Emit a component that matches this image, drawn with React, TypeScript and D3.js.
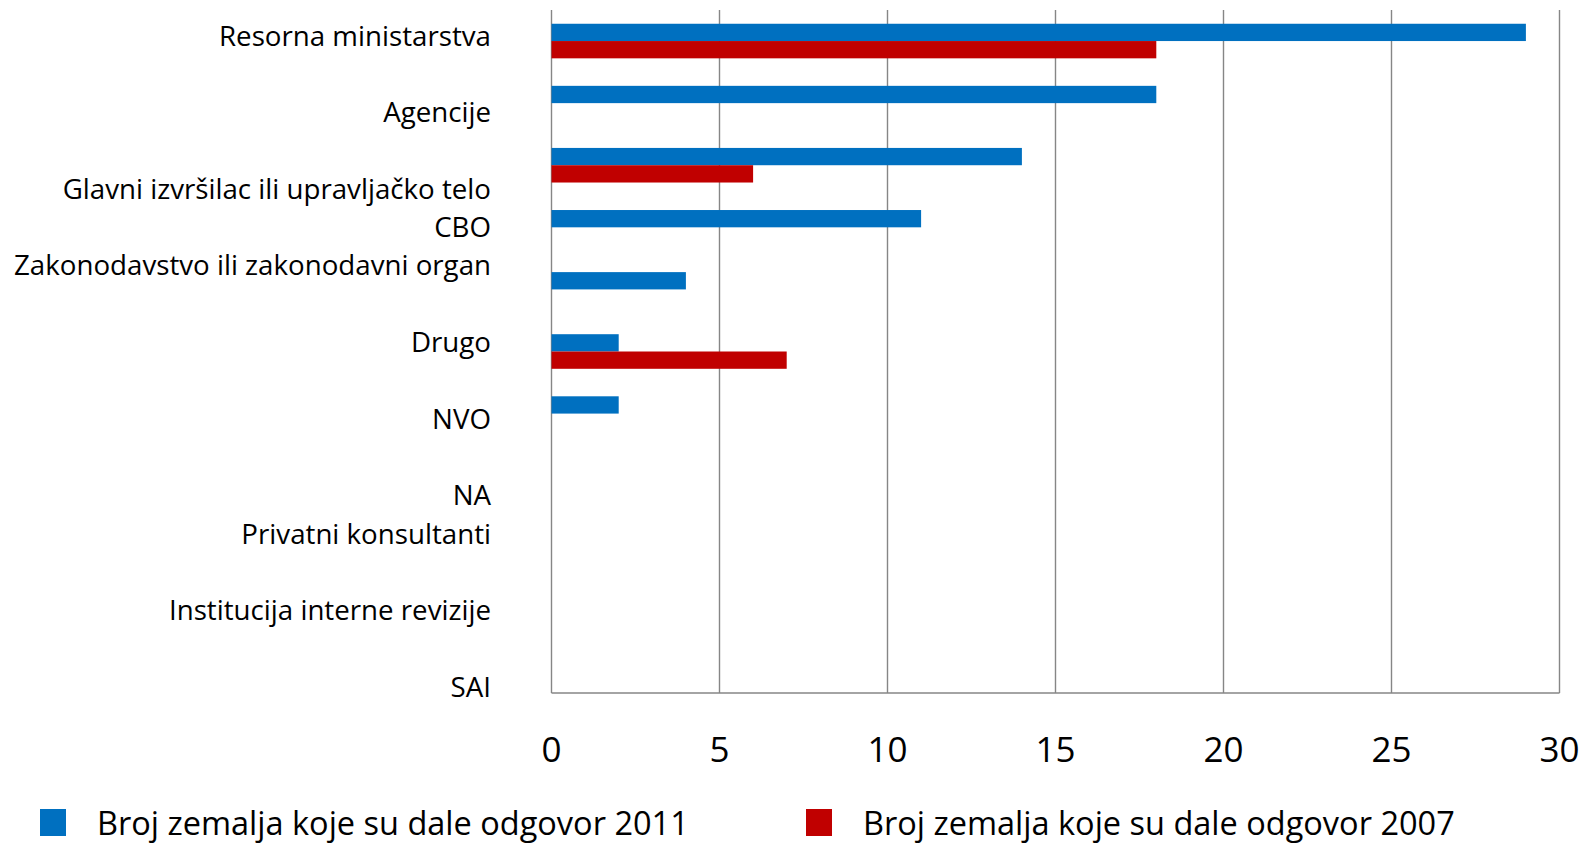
import * as d3 from "d3"
import React from "react"

// categories top to bottom
const categories = [
    "Resorna ministarstva",
    "Agencije",
    "Glavni izvršilac ili upravljačko telo",
    "CBO",
    "Zakonodavstvo ili zakonodavni organ",
    "Drugo",
    "NVO",
    "NA",
    "Privatni konsultanti",
    "Institucija interne revizije",
    "SAI",
]

const seriesNames = [
    "Broj zemalja koje su dale odgovor 2011",
    "Broj zemalja koje su dale odgovor 2007",
]

const values2011 = [29, 18, 14, 11, 4, 2, 2, 0, 0, 0, 0]
const values2007 = [18, 0, 6, 0, 0, 7, 0, 0, 0, 0, 0]

const xTicks = [0, 5, 10, 15, 20, 25, 30]

const width = 1585
const height = 844
const colors = ["#0070C0", "#C00000"]
const gridColor = "#868686"
const font = "'Open Sans', Lato, sans-serif"

// the labels in the source sit on a half-step grid, not on the bars
const labelSlot = [0, 2, 4, 5, 6, 8, 10, 12, 13, 15, 17]

const App = () => {
    const left = 551.5
    const right = 1559.5
    const top = 10
    const bottom = 693

    const x = d3.scaleLinear().domain([0, 30]).range([left, right])

    const y = d3
        .scaleBand()
        .domain(categories)
        .range([top, bottom])
        .paddingInner(0.443)
        .paddingOuter(0.2215)

    const sub = d3
        .scaleBand()
        .domain(seriesNames)
        .range([0, y.bandwidth()])

    const labelY = d3.scaleLinear().domain([0, 17]).range([45.5, 697])

    const series = [values2011, values2007]

    return (
        <svg
            width={width}
            height={height}
            style={{ position: "absolute", left: 0, top: 0, display: "block", background: "#fff" }}
        >
            {/* gridlines */}
            {xTicks.map((t) => (
                <line
                    key={"g" + t}
                    x1={x(t)}
                    x2={x(t)}
                    y1={top}
                    y2={bottom}
                    stroke={gridColor}
                    strokeWidth={1.4}
                />
            ))}
            {/* bottom axis */}
            <line x1={left} x2={right} y1={bottom} y2={bottom} stroke={gridColor} strokeWidth={1.4} />

            {/* bars */}
            {series.map((vals, si) =>
                categories.map((c, i) =>
                    vals[i] > 0 ? (
                        <rect
                            key={si + "-" + c}
                            x={x(0)}
                            y={y(c) + sub(seriesNames[si])}
                            width={x(vals[i]) - x(0)}
                            height={sub.bandwidth()}
                            fill={colors[si]}
                        />
                    ) : null
                )
            )}

            {/* category labels */}
            {categories.map((c, i) => (
                <text
                    key={"l" + c}
                    x={491}
                    y={labelY(labelSlot[i])}
                    textAnchor="end"
                    fontFamily={font}
                    fontSize={27.7}
                    fill="#000"
                >
                    {c}
                </text>
            ))}

            {/* x tick labels */}
            {xTicks.map((t) => (
                <text
                    key={"t" + t}
                    x={x(t)}
                    y={762}
                    textAnchor="middle"
                    fontFamily={font}
                    fontSize={35}
                    fill="#000"
                >
                    {t}
                </text>
            ))}

            {/* legend */}
            {seriesNames.map((s, i) => {
                const lx = i === 0 ? 40 : 806
                return (
                    <g key={"lg" + i}>
                        <rect x={lx} y={809} width={26} height={27} fill={colors[i]} />
                        <text x={lx + 57} y={835} fontFamily={font} fontSize={32.5} fill="#000">
                            {s}
                        </text>
                    </g>
                )
            })}
        </svg>
    )
}

export default App
